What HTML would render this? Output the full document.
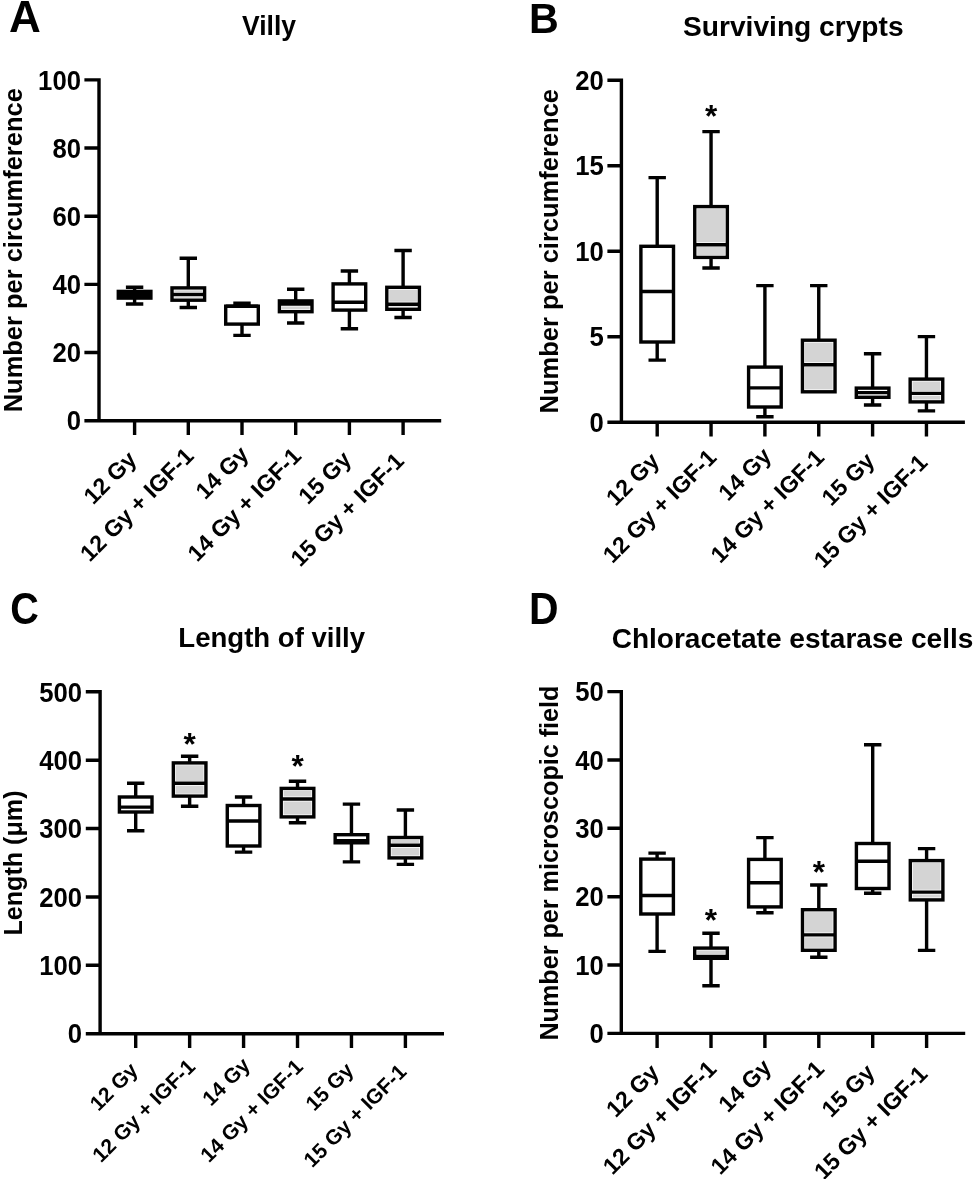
<!DOCTYPE html>
<html><head><meta charset="utf-8"><style>
html,body{margin:0;padding:0;background:#fff;}
svg{display:block;}
svg{will-change:transform;opacity:0.999;}
text{font-family:"Liberation Sans", sans-serif;fill:#000;}
</style></head><body>
<svg width="975" height="1179" viewBox="0 0 975 1179">
<rect width="975" height="1179" fill="#fff"/>
<text transform="translate(8.9,32.3) scale(0.99,0.99)" font-size="44.5" font-weight="bold">A</text>
<text x="269.0" y="35.4" font-size="28" font-weight="bold" text-anchor="middle" textLength="54" lengthAdjust="spacingAndGlyphs">Villy</text>
<text transform="translate(21.8,250.25) rotate(-90)" font-size="26" font-weight="bold" text-anchor="middle" textLength="324.1" lengthAdjust="spacingAndGlyphs">Number per circumference</text>
<path d="M84.4,79.9H99.0V420.7M84.4,420.7H441.2M84.4,352.54H99.0M84.4,284.38H99.0M84.4,216.22H99.0M84.4,148.06H99.0M134.60,420.7V434.9M188.30,420.7V434.9M242.00,420.7V434.9M295.70,420.7V434.9M349.40,420.7V434.9M403.10,420.7V434.9" fill="none" stroke="#000" stroke-width="3.4" stroke-linecap="butt"/>
<text transform="translate(81.0,430.40) scale(0.97,1.055)" font-size="26.5" font-weight="bold" text-anchor="end">0</text>
<text transform="translate(81.0,362.24) scale(0.97,1.055)" font-size="26.5" font-weight="bold" text-anchor="end">20</text>
<text transform="translate(81.0,294.08) scale(0.97,1.055)" font-size="26.5" font-weight="bold" text-anchor="end">40</text>
<text transform="translate(81.0,225.92) scale(0.97,1.055)" font-size="26.5" font-weight="bold" text-anchor="end">60</text>
<text transform="translate(81.0,157.76) scale(0.97,1.055)" font-size="26.5" font-weight="bold" text-anchor="end">80</text>
<text transform="translate(81.0,89.60) scale(0.97,1.055)" font-size="26.5" font-weight="bold" text-anchor="end">100</text>
<rect x="118.30" y="291.4" width="32.6" height="6.70" fill="#fff"/><rect x="118.30" y="291.4" width="32.6" height="6.70" fill="none" stroke="#000" stroke-width="3.4"/><path d="M118.30,294.75H150.90" stroke="#000" stroke-width="3.4"/><rect x="118.30" y="291.4" width="32.6" height="3.35" fill="#000"/><rect x="118.30" y="294.75" width="32.6" height="3.35" fill="#000"/><path d="M134.60,287.25V291.4M134.60,298.1V303.95M125.90,287.25H143.30M125.90,303.95H143.30" stroke="#000" stroke-width="3.4" fill="none"/>
<rect x="172.00" y="287.9" width="32.6" height="12.30" fill="#d4d4d4"/><rect x="172.00" y="287.9" width="32.6" height="12.30" fill="none" stroke="#fff" stroke-width="4.8"/><path d="M172.00,294.5H204.60" stroke="#fff" stroke-width="4.8"/><rect x="172.00" y="287.9" width="32.6" height="12.30" fill="none" stroke="#000" stroke-width="3.4"/><path d="M172.00,294.5H204.60" stroke="#000" stroke-width="3.4"/><path d="M188.30,258.3V287.9M188.30,300.2V307.5M179.60,258.3H197.00M179.60,307.5H197.00" stroke="#000" stroke-width="3.4" fill="none"/>
<rect x="225.70" y="306.2" width="32.6" height="17.90" fill="#fff"/><rect x="225.70" y="306.2" width="32.6" height="17.90" fill="none" stroke="#000" stroke-width="3.4"/><path d="M225.70,306.2H258.30" stroke="#000" stroke-width="3.4"/><path d="M242.00,303.2V306.2M242.00,324.1V335.4M233.30,303.2H250.70M233.30,335.4H250.70" stroke="#000" stroke-width="3.4" fill="none"/>
<rect x="279.40" y="300.9" width="32.6" height="10.80" fill="#d4d4d4"/><rect x="279.40" y="300.9" width="32.6" height="10.80" fill="none" stroke="#fff" stroke-width="4.8"/><path d="M279.40,304.0H312.00" stroke="#fff" stroke-width="4.8"/><rect x="279.40" y="300.9" width="32.6" height="10.80" fill="none" stroke="#000" stroke-width="3.4"/><path d="M279.40,304.0H312.00" stroke="#000" stroke-width="3.4"/><rect x="279.40" y="300.9" width="32.6" height="3.10" fill="#000"/><path d="M295.70,289.3V300.9M295.70,311.7V323.0M287.00,289.3H304.40M287.00,323.0H304.40" stroke="#000" stroke-width="3.4" fill="none"/>
<rect x="333.10" y="283.9" width="32.6" height="26.20" fill="#fff"/><rect x="333.10" y="283.9" width="32.6" height="26.20" fill="none" stroke="#000" stroke-width="3.4"/><path d="M333.10,302.3H365.70" stroke="#000" stroke-width="3.4"/><path d="M349.40,271.0V283.9M349.40,310.1V328.7M340.70,271.0H358.10M340.70,328.7H358.10" stroke="#000" stroke-width="3.4" fill="none"/>
<rect x="386.80" y="287.3" width="32.6" height="22.00" fill="#d4d4d4"/><rect x="386.80" y="287.3" width="32.6" height="22.00" fill="none" stroke="#fff" stroke-width="4.8"/><path d="M386.80,304.2H419.40" stroke="#fff" stroke-width="4.8"/><rect x="386.80" y="287.3" width="32.6" height="22.00" fill="none" stroke="#000" stroke-width="3.4"/><path d="M386.80,304.2H419.40" stroke="#000" stroke-width="3.4"/><path d="M403.10,250.5V287.3M403.10,309.3V317.5M394.40,250.5H411.80M394.40,317.5H411.80" stroke="#000" stroke-width="3.4" fill="none"/>
<text transform="translate(137.90,460.80) rotate(-45)" font-size="23.2" font-weight="bold" text-anchor="end">12 Gy</text>
<text transform="translate(195.10,457.40) rotate(-45)" font-size="23.2" font-weight="bold" text-anchor="end">12 Gy + IGF-1</text>
<text transform="translate(249.80,455.80) rotate(-45)" font-size="23.2" font-weight="bold" text-anchor="end">14 Gy</text>
<text transform="translate(302.50,457.40) rotate(-45)" font-size="23.2" font-weight="bold" text-anchor="end">14 Gy + IGF-1</text>
<text transform="translate(352.70,460.80) rotate(-45)" font-size="23.2" font-weight="bold" text-anchor="end">15 Gy</text>
<text transform="translate(405.40,462.40) rotate(-45)" font-size="23.2" font-weight="bold" text-anchor="end">15 Gy + IGF-1</text>
<text transform="translate(529.0,32.8) scale(0.926,0.975)" font-size="44.5" font-weight="bold">B</text>
<text x="793.3" y="36.0" font-size="28" font-weight="bold" text-anchor="middle" textLength="220.6" lengthAdjust="spacingAndGlyphs">Surviving crypts</text>
<text transform="translate(557.7,251.25) rotate(-90)" font-size="26" font-weight="bold" text-anchor="middle" textLength="324.5" lengthAdjust="spacingAndGlyphs">Number per circumference</text>
<path d="M607.4,80.2H621.4V422.2M607.4,422.2H964.9M607.4,336.70H621.4M607.4,251.20H621.4M607.4,165.70H621.4M657.20,422.2V436.4M711.05,422.2V436.4M764.90,422.2V436.4M818.75,422.2V436.4M872.60,422.2V436.4M926.45,422.2V436.4" fill="none" stroke="#000" stroke-width="3.4" stroke-linecap="butt"/>
<text transform="translate(603.9,431.90) scale(0.97,1.055)" font-size="26.5" font-weight="bold" text-anchor="end">0</text>
<text transform="translate(603.9,346.40) scale(0.97,1.055)" font-size="26.5" font-weight="bold" text-anchor="end">5</text>
<text transform="translate(603.9,260.90) scale(0.97,1.055)" font-size="26.5" font-weight="bold" text-anchor="end">10</text>
<text transform="translate(603.9,175.40) scale(0.97,1.055)" font-size="26.5" font-weight="bold" text-anchor="end">15</text>
<text transform="translate(603.9,89.90) scale(0.97,1.055)" font-size="26.5" font-weight="bold" text-anchor="end">20</text>
<rect x="640.90" y="246.3" width="32.6" height="95.70" fill="#fff"/><rect x="640.90" y="246.3" width="32.6" height="95.70" fill="none" stroke="#000" stroke-width="3.4"/><path d="M640.90,291.5H673.50" stroke="#000" stroke-width="3.4"/><path d="M657.20,177.6V246.3M657.20,342.0V360.1M648.50,177.6H665.90M648.50,360.1H665.90" stroke="#000" stroke-width="3.4" fill="none"/>
<rect x="694.75" y="206.6" width="32.6" height="50.80" fill="#d4d4d4"/><rect x="694.75" y="206.6" width="32.6" height="50.80" fill="none" stroke="#fff" stroke-width="4.8"/><path d="M694.75,244.7H727.35" stroke="#fff" stroke-width="4.8"/><rect x="694.75" y="206.6" width="32.6" height="50.80" fill="none" stroke="#000" stroke-width="3.4"/><path d="M694.75,244.7H727.35" stroke="#000" stroke-width="3.4"/><path d="M711.05,131.6V206.6M711.05,257.4V268.0M702.35,131.6H719.75M702.35,268.0H719.75" stroke="#000" stroke-width="3.4" fill="none"/>
<rect x="748.60" y="367.1" width="32.6" height="39.90" fill="#fff"/><rect x="748.60" y="367.1" width="32.6" height="39.90" fill="none" stroke="#000" stroke-width="3.4"/><path d="M748.60,387.9H781.20" stroke="#000" stroke-width="3.4"/><path d="M764.90,285.6V367.1M764.90,407.0V416.7M756.20,285.6H773.60M756.20,416.7H773.60" stroke="#000" stroke-width="3.4" fill="none"/>
<rect x="802.45" y="340.2" width="32.6" height="51.60" fill="#d4d4d4"/><rect x="802.45" y="340.2" width="32.6" height="51.60" fill="none" stroke="#fff" stroke-width="4.8"/><path d="M802.45,364.7H835.05" stroke="#fff" stroke-width="4.8"/><rect x="802.45" y="340.2" width="32.6" height="51.60" fill="none" stroke="#000" stroke-width="3.4"/><path d="M802.45,364.7H835.05" stroke="#000" stroke-width="3.4"/><path d="M818.75,285.6V340.2M818.75,391.8V391.8M810.05,285.6H827.45" stroke="#000" stroke-width="3.4" fill="none"/>
<rect x="856.30" y="388.1" width="32.6" height="9.20" fill="#fff"/><rect x="856.30" y="388.1" width="32.6" height="9.20" fill="none" stroke="#000" stroke-width="3.4"/><path d="M856.30,392.6H888.90" stroke="#000" stroke-width="3.4"/><path d="M872.60,353.7V388.1M872.60,397.3V405.0M863.90,353.7H881.30M863.90,405.0H881.30" stroke="#000" stroke-width="3.4" fill="none"/>
<rect x="910.15" y="379.1" width="32.6" height="22.80" fill="#d4d4d4"/><rect x="910.15" y="379.1" width="32.6" height="22.80" fill="none" stroke="#fff" stroke-width="4.8"/><path d="M910.15,393.4H942.75" stroke="#fff" stroke-width="4.8"/><rect x="910.15" y="379.1" width="32.6" height="22.80" fill="none" stroke="#000" stroke-width="3.4"/><path d="M910.15,393.4H942.75" stroke="#000" stroke-width="3.4"/><path d="M926.45,336.6V379.1M926.45,401.9V410.9M917.75,336.6H935.15M917.75,410.9H935.15" stroke="#000" stroke-width="3.4" fill="none"/>
<text x="711.05" y="127.10" font-size="31.5" font-weight="bold" text-anchor="middle">*</text>
<text transform="translate(660.50,462.30) rotate(-45)" font-size="23.2" font-weight="bold" text-anchor="end">12 Gy</text>
<text transform="translate(717.85,458.90) rotate(-45)" font-size="23.2" font-weight="bold" text-anchor="end">12 Gy + IGF-1</text>
<text transform="translate(772.70,457.30) rotate(-45)" font-size="23.2" font-weight="bold" text-anchor="end">14 Gy</text>
<text transform="translate(825.55,458.90) rotate(-45)" font-size="23.2" font-weight="bold" text-anchor="end">14 Gy + IGF-1</text>
<text transform="translate(875.90,462.30) rotate(-45)" font-size="23.2" font-weight="bold" text-anchor="end">15 Gy</text>
<text transform="translate(928.75,463.90) rotate(-45)" font-size="23.2" font-weight="bold" text-anchor="end">15 Gy + IGF-1</text>
<text transform="translate(10.2,623.5) scale(0.89,0.984)" font-size="44.5" font-weight="bold">C</text>
<text x="271.7" y="647.2" font-size="28" font-weight="bold" text-anchor="middle" textLength="186.8" lengthAdjust="spacingAndGlyphs">Length of villy</text>
<text transform="translate(22.0,863.0) rotate(-90)" font-size="26" font-weight="bold" text-anchor="middle" textLength="145" lengthAdjust="spacingAndGlyphs">Length (μm)</text>
<path d="M85.8,691.8H100.1V1033.7M85.8,1033.7H444.0M85.8,965.32H100.1M85.8,896.94H100.1M85.8,828.56H100.1M85.8,760.18H100.1M135.70,1033.7V1048.1M189.64,1033.7V1048.1M243.58,1033.7V1048.1M297.52,1033.7V1048.1M351.46,1033.7V1048.1M405.40,1033.7V1048.1" fill="none" stroke="#000" stroke-width="3.4" stroke-linecap="butt"/>
<text transform="translate(82.1,1043.40) scale(0.97,1.055)" font-size="26.5" font-weight="bold" text-anchor="end">0</text>
<text transform="translate(82.1,975.02) scale(0.97,1.055)" font-size="26.5" font-weight="bold" text-anchor="end">100</text>
<text transform="translate(82.1,906.64) scale(0.97,1.055)" font-size="26.5" font-weight="bold" text-anchor="end">200</text>
<text transform="translate(82.1,838.26) scale(0.97,1.055)" font-size="26.5" font-weight="bold" text-anchor="end">300</text>
<text transform="translate(82.1,769.88) scale(0.97,1.055)" font-size="26.5" font-weight="bold" text-anchor="end">400</text>
<text transform="translate(82.1,701.50) scale(0.97,1.055)" font-size="26.5" font-weight="bold" text-anchor="end">500</text>
<rect x="119.40" y="797.0" width="32.6" height="15.00" fill="#fff"/><rect x="119.40" y="797.0" width="32.6" height="15.00" fill="none" stroke="#000" stroke-width="3.4"/><path d="M119.40,807.1H152.00" stroke="#000" stroke-width="3.4"/><path d="M135.70,783.3V797.0M135.70,812.0V830.8M127.00,783.3H144.40M127.00,830.8H144.40" stroke="#000" stroke-width="3.4" fill="none"/>
<rect x="173.34" y="762.9" width="32.6" height="33.20" fill="#d4d4d4"/><rect x="173.34" y="762.9" width="32.6" height="33.20" fill="none" stroke="#fff" stroke-width="4.8"/><path d="M173.34,783.3H205.94" stroke="#fff" stroke-width="4.8"/><rect x="173.34" y="762.9" width="32.6" height="33.20" fill="none" stroke="#000" stroke-width="3.4"/><path d="M173.34,783.3H205.94" stroke="#000" stroke-width="3.4"/><path d="M189.64,756.3V762.9M189.64,796.1V806.3M180.94,756.3H198.34M180.94,806.3H198.34" stroke="#000" stroke-width="3.4" fill="none"/>
<rect x="227.28" y="805.5" width="32.6" height="40.50" fill="#fff"/><rect x="227.28" y="805.5" width="32.6" height="40.50" fill="none" stroke="#000" stroke-width="3.4"/><path d="M227.28,821.0H259.88" stroke="#000" stroke-width="3.4"/><path d="M243.58,797.0V805.5M243.58,846.0V852.1M234.88,797.0H252.28M234.88,852.1H252.28" stroke="#000" stroke-width="3.4" fill="none"/>
<rect x="281.22" y="788.4" width="32.6" height="28.50" fill="#d4d4d4"/><rect x="281.22" y="788.4" width="32.6" height="28.50" fill="none" stroke="#fff" stroke-width="4.8"/><path d="M281.22,799.0H313.82" stroke="#fff" stroke-width="4.8"/><rect x="281.22" y="788.4" width="32.6" height="28.50" fill="none" stroke="#000" stroke-width="3.4"/><path d="M281.22,799.0H313.82" stroke="#000" stroke-width="3.4"/><path d="M297.52,781.3V788.4M297.52,816.9V822.8M288.82,781.3H306.22M288.82,822.8H306.22" stroke="#000" stroke-width="3.4" fill="none"/>
<rect x="335.16" y="834.7" width="32.6" height="8.10" fill="#fff"/><rect x="335.16" y="834.7" width="32.6" height="8.10" fill="none" stroke="#000" stroke-width="3.4"/><path d="M335.16,840.6H367.76" stroke="#000" stroke-width="3.4"/><rect x="335.16" y="840.6" width="32.6" height="2.20" fill="#000"/><path d="M351.46,804.1V834.7M351.46,842.8V861.9M342.76,804.1H360.16M342.76,861.9H360.16" stroke="#000" stroke-width="3.4" fill="none"/>
<rect x="389.10" y="837.5" width="32.6" height="20.40" fill="#d4d4d4"/><rect x="389.10" y="837.5" width="32.6" height="20.40" fill="none" stroke="#fff" stroke-width="4.8"/><path d="M389.10,845.3H421.70" stroke="#fff" stroke-width="4.8"/><rect x="389.10" y="837.5" width="32.6" height="20.40" fill="none" stroke="#000" stroke-width="3.4"/><path d="M389.10,845.3H421.70" stroke="#000" stroke-width="3.4"/><path d="M405.40,810.0V837.5M405.40,857.9V864.4M396.70,810.0H414.10M396.70,864.4H414.10" stroke="#000" stroke-width="3.4" fill="none"/>
<text x="189.64" y="755.40" font-size="31.5" font-weight="bold" text-anchor="middle">*</text>
<text x="297.52" y="776.80" font-size="31.5" font-weight="bold" text-anchor="middle">*</text>
<text transform="translate(139.00,1071.50) rotate(-45)" font-size="21.0" font-weight="bold" text-anchor="end">12 Gy</text>
<text transform="translate(196.44,1068.10) rotate(-45)" font-size="21.0" font-weight="bold" text-anchor="end">12 Gy + IGF-1</text>
<text transform="translate(251.38,1066.50) rotate(-45)" font-size="21.0" font-weight="bold" text-anchor="end">14 Gy</text>
<text transform="translate(304.32,1068.10) rotate(-45)" font-size="21.0" font-weight="bold" text-anchor="end">14 Gy + IGF-1</text>
<text transform="translate(354.76,1071.50) rotate(-45)" font-size="21.0" font-weight="bold" text-anchor="end">15 Gy</text>
<text transform="translate(407.70,1073.10) rotate(-45)" font-size="21.0" font-weight="bold" text-anchor="end">15 Gy + IGF-1</text>
<text transform="translate(529.0,623.6) scale(0.92,1.0)" font-size="44.5" font-weight="bold">D</text>
<text x="792.5" y="647.7" font-size="28" font-weight="bold" text-anchor="middle" textLength="361.7" lengthAdjust="spacingAndGlyphs">Chloracetate estarase cells</text>
<text transform="translate(557.7,863.05) rotate(-90)" font-size="26" font-weight="bold" text-anchor="middle" textLength="355" lengthAdjust="spacingAndGlyphs">Number per microscopic field</text>
<path d="M607.4,691.6H621.3V1033.4M607.4,1033.4H965.2M607.4,965.04H621.3M607.4,896.68H621.3M607.4,828.32H621.3M607.4,759.96H621.3M657.10,1033.4V1048.0M711.00,1033.4V1048.0M764.90,1033.4V1048.0M818.80,1033.4V1048.0M872.70,1033.4V1048.0M926.60,1033.4V1048.0" fill="none" stroke="#000" stroke-width="3.4" stroke-linecap="butt"/>
<text transform="translate(603.9,1043.10) scale(0.97,1.055)" font-size="26.5" font-weight="bold" text-anchor="end">0</text>
<text transform="translate(603.9,974.74) scale(0.97,1.055)" font-size="26.5" font-weight="bold" text-anchor="end">10</text>
<text transform="translate(603.9,906.38) scale(0.97,1.055)" font-size="26.5" font-weight="bold" text-anchor="end">20</text>
<text transform="translate(603.9,838.02) scale(0.97,1.055)" font-size="26.5" font-weight="bold" text-anchor="end">30</text>
<text transform="translate(603.9,769.66) scale(0.97,1.055)" font-size="26.5" font-weight="bold" text-anchor="end">40</text>
<text transform="translate(603.9,701.30) scale(0.97,1.055)" font-size="26.5" font-weight="bold" text-anchor="end">50</text>
<rect x="640.80" y="859.1" width="32.6" height="54.90" fill="#fff"/><rect x="640.80" y="859.1" width="32.6" height="54.90" fill="none" stroke="#000" stroke-width="3.4"/><path d="M640.80,895.5H673.40" stroke="#000" stroke-width="3.4"/><path d="M657.10,853.1V859.1M657.10,914.0V951.4M648.40,853.1H665.80M648.40,951.4H665.80" stroke="#000" stroke-width="3.4" fill="none"/>
<rect x="694.70" y="948.1" width="32.6" height="10.20" fill="#d4d4d4"/><rect x="694.70" y="948.1" width="32.6" height="10.20" fill="none" stroke="#fff" stroke-width="4.8"/><path d="M694.70,956.5H727.30" stroke="#fff" stroke-width="4.8"/><rect x="694.70" y="948.1" width="32.6" height="10.20" fill="none" stroke="#000" stroke-width="3.4"/><path d="M694.70,956.5H727.30" stroke="#000" stroke-width="3.4"/><rect x="694.70" y="956.5" width="32.6" height="1.80" fill="#000"/><path d="M711.00,933.2V948.1M711.00,958.3V985.8M702.30,933.2H719.70M702.30,985.8H719.70" stroke="#000" stroke-width="3.4" fill="none"/>
<rect x="748.60" y="859.4" width="32.6" height="47.50" fill="#fff"/><rect x="748.60" y="859.4" width="32.6" height="47.50" fill="none" stroke="#000" stroke-width="3.4"/><path d="M748.60,882.7H781.20" stroke="#000" stroke-width="3.4"/><path d="M764.90,837.6V859.4M764.90,906.9V912.7M756.20,837.6H773.60M756.20,912.7H773.60" stroke="#000" stroke-width="3.4" fill="none"/>
<rect x="802.50" y="909.7" width="32.6" height="40.60" fill="#d4d4d4"/><rect x="802.50" y="909.7" width="32.6" height="40.60" fill="none" stroke="#fff" stroke-width="4.8"/><path d="M802.50,934.9H835.10" stroke="#fff" stroke-width="4.8"/><rect x="802.50" y="909.7" width="32.6" height="40.60" fill="none" stroke="#000" stroke-width="3.4"/><path d="M802.50,934.9H835.10" stroke="#000" stroke-width="3.4"/><path d="M818.80,885.0V909.7M818.80,950.3V957.2M810.10,885.0H827.50M810.10,957.2H827.50" stroke="#000" stroke-width="3.4" fill="none"/>
<rect x="856.40" y="843.5" width="32.6" height="45.00" fill="#fff"/><rect x="856.40" y="843.5" width="32.6" height="45.00" fill="none" stroke="#000" stroke-width="3.4"/><path d="M856.40,861.3H889.00" stroke="#000" stroke-width="3.4"/><path d="M872.70,744.8V843.5M872.70,888.5V893.2M864.00,744.8H881.40M864.00,893.2H881.40" stroke="#000" stroke-width="3.4" fill="none"/>
<rect x="910.30" y="860.6" width="32.6" height="39.30" fill="#d4d4d4"/><rect x="910.30" y="860.6" width="32.6" height="39.30" fill="none" stroke="#fff" stroke-width="4.8"/><path d="M910.30,892.1H942.90" stroke="#fff" stroke-width="4.8"/><rect x="910.30" y="860.6" width="32.6" height="39.30" fill="none" stroke="#000" stroke-width="3.4"/><path d="M910.30,892.1H942.90" stroke="#000" stroke-width="3.4"/><path d="M926.60,848.6V860.6M926.60,899.9V950.4M917.90,848.6H935.30M917.90,950.4H935.30" stroke="#000" stroke-width="3.4" fill="none"/>
<text x="711.00" y="930.55" font-size="31.5" font-weight="bold" text-anchor="middle">*</text>
<text x="818.80" y="882.80" font-size="31.5" font-weight="bold" text-anchor="middle">*</text>
<text transform="translate(660.40,1073.90) rotate(-45)" font-size="23.2" font-weight="bold" text-anchor="end">12 Gy</text>
<text transform="translate(717.80,1070.50) rotate(-45)" font-size="23.2" font-weight="bold" text-anchor="end">12 Gy + IGF-1</text>
<text transform="translate(772.70,1068.90) rotate(-45)" font-size="23.2" font-weight="bold" text-anchor="end">14 Gy</text>
<text transform="translate(825.60,1070.50) rotate(-45)" font-size="23.2" font-weight="bold" text-anchor="end">14 Gy + IGF-1</text>
<text transform="translate(876.00,1073.90) rotate(-45)" font-size="23.2" font-weight="bold" text-anchor="end">15 Gy</text>
<text transform="translate(928.90,1075.50) rotate(-45)" font-size="23.2" font-weight="bold" text-anchor="end">15 Gy + IGF-1</text>
</svg>
</body></html>
